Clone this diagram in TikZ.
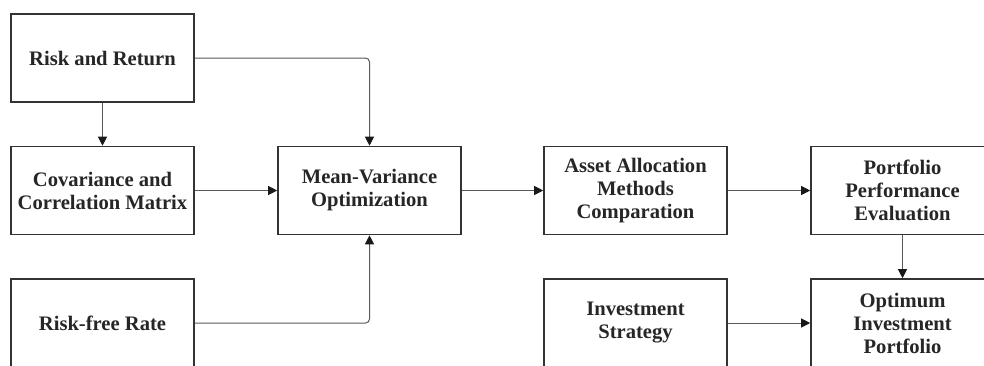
\documentclass[tikz,border=0pt]{standalone}
\usepackage{fontspec}
\setmainfont{Liberation Serif}
\usetikzlibrary{arrows.meta}
\colorlet{boxline}{black!80}
\colorlet{conline}{black!65}
\tikzset{fcp/.style={
  x=0.5pt,
  y=-0.5pt
}}
\tikzset{blk/.style={
  draw=boxline,
  line width=0.8pt,
  fill=white,
  shape=rectangle,
  minimum width=91.5pt,
  minimum height=44pt,
  inner sep=1pt,
  align=center,
  text=black!85,
  font=\fontsize{10.3}{11.5}\selectfont\bfseries,
}}
\tikzset{con/.style={
  draw=conline,
  line width=0.5pt,
  rounded corners=2pt,
  -{Triangle[length=4.5pt,width=4.5pt,color=black!90]},
}}

\begin{document}
\begin{tikzpicture}[fcp]
    \useasboundingbox (0,0) rectangle (984,365);
    \clip (0,0) rectangle (984,365);
    % Inputs
    \node[blk] (riskret) at (102.5,58) {Risk and Return};
    \node[blk] (covar) at (102.5,190.5) {Covariance and\\Correlation Matrix};
    \node[blk] (rfrate) at (102.5,323) {Risk-free Rate};
    % Main line
    \node[blk] (mvopt) at (369.5,190.5) {Mean-Variance\\Optimization};
    \node[blk] (assetalloc) at (635.5,190.5) {Asset Allocation\\Methods\\Comparation};
    \node[blk] (perfeval) at (902.5,190.5) {Portfolio\\Performance\\Evaluation};
    % Bottom right
    \node[blk] (invstrat) at (635.5,323) {Investment\\Strategy};
    \node[blk] (optport) at (902.5,323) {Optimum\\Investment\\Portfolio};
    % Connectors
    \draw[con] (riskret) -- (covar);
    \draw[con] (riskret.east) -| (mvopt.north);
    \draw[con] (rfrate.east) -| (mvopt.south);
    \draw[con] (covar) -- (mvopt);
    \draw[con] (mvopt) -- (assetalloc);
    \draw[con] (assetalloc) -- (perfeval);
    \draw[con] (perfeval) -- (optport);
    \draw[con] (invstrat) -- (optport);
  \end{tikzpicture}
\end{document}
